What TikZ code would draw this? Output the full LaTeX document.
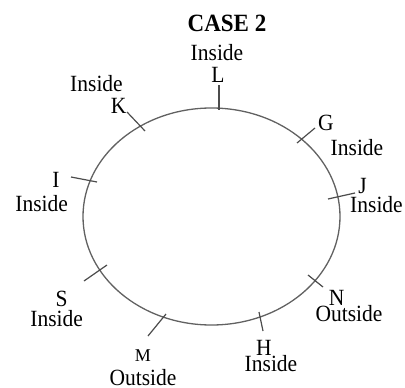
\documentclass[tikz,border=0pt]{standalone}
\usepackage{fontspec}
\usepackage{graphicx}
\setmainfont{Liberation Serif}
\newcommand{\vstretch}[1]{\scalebox{1}[1.08]{#1}}
\begin{document}
\begin{tikzpicture}[x=1pt,y=-1pt,
  lbl/.style={anchor=base,inner sep=0pt,font=\fontsize{21.5}{22}\selectfont,text=black},
  smalllbl/.style={anchor=base,inner sep=0pt,font=\fontsize{18}{19}\selectfont,text=black},
  titlelbl/.style={anchor=base,inner sep=0pt,font=\fontsize{23}{24}\selectfont\bfseries,text=black},
  ring/.style={draw=black!62,line width=1.3pt},
  tick/.style={draw=black!70,line width=1.2pt}]
\useasboundingbox (0,0) rectangle (405,388);
% ellipse
\draw[ring] (211.5,216.5) ellipse [x radius=128.5pt, y radius=108.5pt];
% tick ends
\coordinate (L1) at (219,85);  \coordinate (L2) at (219,110);
\coordinate (K1) at (127,112); \coordinate (K2) at (145,131);
\coordinate (G1) at (297,143); \coordinate (G2) at (315,128);
\coordinate (I1) at (71,177);  \coordinate (I2) at (97,182);
\coordinate (J1) at (328,199); \coordinate (J2) at (355,193);
\coordinate (S1) at (84,281);  \coordinate (S2) at (107,265);
\coordinate (N1) at (308,275); \coordinate (N2) at (323,287);
\coordinate (M1) at (148,336); \coordinate (M2) at (166,314);
\coordinate (H1) at (259,312); \coordinate (H2) at (263,331);
\foreach \t in {L,K,G,I,J,S,N,M,H} \draw[tick] (\t1) -- (\t2);
% labels
\node[titlelbl] (title) at (227,31.5) {\vstretch{CASE 2}};
\node[lbl] (Lin) at (217,60) {\vstretch{Inside}};
\node[lbl] (L) at (218,82) {\vstretch{L}};
\node[lbl] (Kin) at (96.5,91.7) {\vstretch{Inside}};
\node[lbl] (K) at (118.7,113) {\vstretch{K}};
\node[lbl] (G) at (326,130) {\vstretch{G}};
\node[lbl] (Gin) at (357,155) {\vstretch{Inside}};
\node[lbl] (I) at (56,187) {\vstretch{I}};
\node[lbl] (Iin) at (41.7,211.7) {\vstretch{Inside}};
\node[lbl] (J) at (362.5,193) {\vstretch{J}};
\node[lbl] (Jin) at (376.5,212.7) {\vstretch{Inside}};
\node[lbl] (S) at (61.7,306.7) {\vstretch{S}};
\node[lbl] (Sin) at (56.7,326.7) {\vstretch{Inside}};
\node[lbl] (N) at (336.7,305) {\vstretch{N}};
\node[lbl] (Nout) at (349,321.7) {\vstretch{Outside}};
\node[lbl] (H) at (264,355) {\vstretch{H}};
\node[lbl] (Hin) at (271,371.7) {\vstretch{Inside}};
\node[smalllbl] (M) at (143,361.7) {M};
\node[lbl] (Mout) at (143,385) {\vstretch{Outside}};
\end{tikzpicture}
\end{document}
